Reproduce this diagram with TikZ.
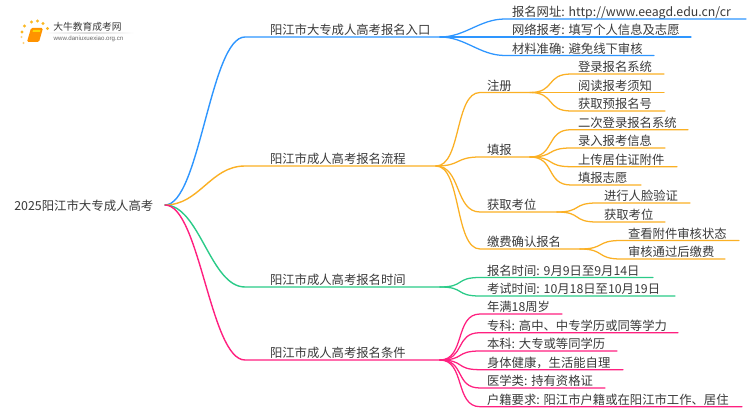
\documentclass[tikz,border=0pt]{standalone}
\usepackage{fontspec}
\setmainfont{Noto Sans CJK SC}
\newfontfamily\logolatin{Liberation Sans}
\definecolor{cblue}{HTML}{2E96FF}
\definecolor{cyel}{HTML}{FBB024}
\definecolor{cgrn}{HTML}{2BCB88}
\definecolor{cpnk}{HTML}{FF2080}
\definecolor{txt}{HTML}{3A3A3A}
\tikzset{
  lab/.style={inner sep=0pt,outer sep=0pt,anchor=south west,text height=8.2pt,text depth=1.6pt,align=left,font=\fontsize{9.25pt}{11pt}\selectfont,text=txt},
  wire/.style={line width=1.05pt,line cap=round,line join=round},
  thin wire/.style={line width=0.95pt,line cap=round,line join=round},
}
\newcommand{\tightc}{\kern-1.7pt{}}
% name, x0, y, x1, text indent, text
\newcommand{\lnode}[6]{%
  \pgfmathsetmacro{\lwid}{(#4-#2)*0.75}%
  \node[lab,text width=\lwid pt] (#1) at (#2,#3) {\hspace*{#5}#6};}
% curve: from, to, colour
\newcommand{\lcurve}[3]{%
  \draw[wire,#3] (#1) .. controls ([xshift=26pt]#1) and ([xshift=-26pt]#2.south west) .. (#2.south west) -- (#2.south east);}
\newcommand{\scurve}[3]{%
  \draw[thin wire,#3] (#1) .. controls ([xshift=19pt]#1) and ([xshift=-19pt]#2.south west) .. (#2.south west) -- (#2.south east);}
\begin{document}
\begin{tikzpicture}[x=0.75pt,y=-0.75pt]
\useasboundingbox (0,0) rectangle (750,410);
\fill[white] (0,0) rectangle (750,410);
% logo
\shade[left color=white,right color=white,middle color=black!14] (44,33) rectangle (134,33.7);
\foreach \a/\b in {22/32,24.5/26,31.5/22,37.5/21,43/23.5,47.5/28.5}{\fill[cyel!90!yellow] (\a,\b) circle (1.7);}
\foreach \a/\b in {21.5/37,23.5/43}{\fill[cyel!60] (\a,\b) circle (1.1);}
\fill[orange!85!yellow,rounded corners=1] (31,28) -- (43,28) -- (39,42) -- (27,42) -- cycle;
\fill[yellow!75!orange] (33,30) -- (40.5,30) -- (40,32) -- (32.5,32) -- cycle;
\node[inner sep=0pt,text=txt,font=\fontsize{7.3pt}{8pt}\selectfont] (logoa) at (87.5,27) {大牛教育成考网};
\node[inner sep=0pt,text=black!60,font=\logolatin\fontsize{4.6pt}{5pt}\selectfont] (logob) at (88.5,38.7) {www.daniuxuexiao.org.cn};
% root
\node[inner sep=0pt,anchor=west,text=txt,font=\fontsize{9.3pt}{11pt}\selectfont] (root) at (14,205.5) {2025阳江市大专成人高考};
\coordinate (r) at (165,205);
\coordinate (f1) at (440,37);
\coordinate (f2) at (436,166);
\coordinate (f3) at (440,287);
\coordinate (f4) at (440,360);
% level 1
\lnode{b1}{245}{37}{440}{18.75pt}{阳江市大专成人高考报名入口}
\lnode{b2}{245}{166}{436}{18.75pt}{阳江市成人高考报名流程}
\lnode{b3}{245}{287}{440}{18.75pt}{阳江市成人高考报名时间}
\lnode{b4}{245}{360}{440}{18.75pt}{阳江市成人高考报名条件}
\lcurve{r}{b1}{cblue}
\lcurve{r}{b2}{cyel}
\lcurve{r}{b3}{cgrn}
\lcurve{r}{b4}{cpnk}
% blue leaves
\lnode{a1}{505}{19}{746}{5.25pt}{报名网址:\tightc{} http://www.eeagd.edu.cn/cr}
\lnode{a2}{505}{37}{691}{5.25pt}{网络报考:\tightc{} 填写个人信息及志愿}
\lnode{a3}{505}{55.5}{654}{5.25pt}{材料准确:\tightc{} 避免线下审核}
\foreach \n in {a1,a2,a3}{\scurve{f1}{\n}{cblue}}
% yellow level 2
\lnode{c1}{480}{92.5}{530}{5.25pt}{注册}
\lnode{c2}{480}{157}{530}{5.25pt}{填报}
\lnode{c3}{480}{212}{557}{5.25pt}{获取考位}
\lnode{c4}{480}{249}{580}{5.25pt}{缴费确认报名}
\foreach \n in {c1,c2,c3,c4}{\scurve{f2}{\n}{cyel}}
\lnode{d1}{571}{74}{664}{5.25pt}{登录报名系统}
\lnode{d2}{571}{92.5}{664}{5.25pt}{阅读报考须知}
\lnode{d3}{571}{111}{665}{5.25pt}{获取预报名号}
\foreach \n in {d1,d2,d3}{\scurve{c1.south east}{\n}{cyel}}
\lnode{e1}{571}{129.7}{688}{5.25pt}{二次登录报名系统}
\lnode{e2}{571}{148}{665}{5.25pt}{录入报考信息}
\lnode{e3}{571}{166.7}{677}{5.25pt}{上传居住证附件}
\lnode{e4}{571}{185}{641}{5.25pt}{填报志愿}
\foreach \n in {e1,e2,e3,e4}{\scurve{c2.south east}{\n}{cyel}}
\lnode{g1}{597}{203}{690}{5.25pt}{进行人脸验证}
\lnode{g2}{597}{222}{665}{5.25pt}{获取考位}
\foreach \n in {g1,g2}{\scurve{c3.south east}{\n}{cyel}}
\lnode{h1}{621}{240.5}{739}{5.25pt}{查看附件审核状态}
\lnode{h2}{621}{259}{725}{5.25pt}{审核通过后缴费}
\foreach \n in {h1,h2}{\scurve{c4.south east}{\n}{cyel}}
% green leaves
\lnode{k1}{480}{277.5}{653}{5.25pt}{报名时间:\tightc{} 9月9日至9月14日}
\lnode{k2}{480}{296}{675}{5.25pt}{考试时间:\tightc{} 10月18日至10月19日}
\foreach \n in {k1,k2}{\scurve{f3}{\n}{cgrn}}
% pink leaves
\lnode{p1}{480}{314}{562}{5.25pt}{年满18周岁}
\lnode{p2}{480}{332.7}{678}{5.25pt}{专科:\tightc{} 高中、中专学历或同等学力}
\lnode{p3}{480}{351}{617}{5.25pt}{本科:\tightc{} 大专或等同学历}
\lnode{p4}{480}{369.7}{623}{5.25pt}{身体健康，生活能自理}
\lnode{p5}{480}{388}{605}{5.25pt}{医学类:\tightc{} 持有资格证}
\lnode{p6}{480}{406.7}{742}{5.25pt}{户籍要求:\tightc{} 阳江市户籍或在阳江市工作、居住}
\foreach \n in {p1,p2,p3,p4,p5,p6}{\scurve{f4}{\n}{cpnk}}
\end{tikzpicture}
\end{document}
